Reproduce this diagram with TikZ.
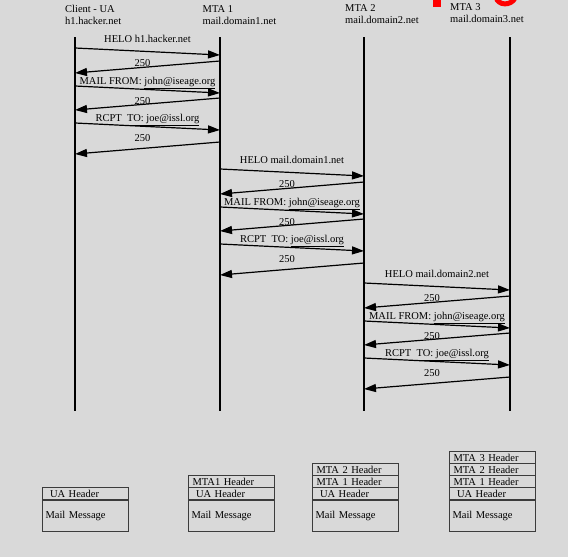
\documentclass[tikz,border=0pt]{standalone}
\usepackage{fontspec}
\setmainfont{Liberation Serif}
\usetikzlibrary{arrows.meta,calc}

\definecolor{paper}{HTML}{D9D9D9}
\definecolor{boxline}{HTML}{3C3C3C}

\tikzset{
  every node/.style={font=\fontsize{10.5}{12}\selectfont},
  lifeline/.style={line width=1.2pt},
  msg/.style={->, line width=1.2pt},
  lbl/.style={anchor=base, inner sep=0pt},
  hostlbl/.style={anchor=base west, inner sep=0pt},
  hdrrow/.style={draw=boxline, line width=1.1pt, anchor=south west, minimum height=12pt,
    text width=78pt, inner xsep=4pt, inner ysep=0pt, align=left},
  msgbody/.style={draw=boxline, line width=1.1pt, anchor=north west, minimum height=31pt,
    text width=80pt, inner xsep=3pt, inner ysep=0pt, align=left}
}

\begin{document}
\begin{tikzpicture}[x=1pt, y=-1pt, >={Triangle[length=12pt,width=8pt]}]

\fill[paper] (0,0) rectangle (568,557);
\useasboundingbox (0,0) rectangle (568,557);

% red text cut off at the top edge
\fill[red] (433,-2) rectangle (441,7);
\draw[red, line width=5pt] (496,-3) .. controls (498,6) and (511,6) .. (515,-2);

\foreach \x/\hx/\hy/\role/\host [count=\i] in {
    75/65/12/{Client - UA}/{h1.hacker.net},
    220/202.5/12/{MTA 1}/{mail.domain1.net},
    364/345/11/{MTA 2}/{mail.domain2.net},
    510/450/10.5/{MTA 3}/{mail.domain3.net}} {
  \node[hostlbl] (role-\i) at (\hx,\hy) {\role};
  \node[hostlbl] (host-\i) at (\hx,\hy+12) {\host};
  \coordinate (col-\i) at (\x,0);
  \coordinate (top-\i) at (\x,37);
  \coordinate (bot-\i) at (\x,411);
  \draw[lifeline] (top-\i) -- (bot-\i);
}

\foreach \l/\r/\b/\from/\rcpt [count=\g] in {
    1/2/48/{h1.hacker.net}/{RCPT\ \ \underline{TO: joe@issl.org}},
    2/3/169/{mail.domain1.net}/{RCPT\ \ TO: \underline{joe@issl.org}},
    3/4/283/{mail.domain2.net}/{RCPT\ \ \underline{TO: joe@issl.org}}} {
  \foreach \dq/\lq/\dr/\lr/\txt [count=\k] in {
      0/-5.5/13/18.5/{HELO \from},
      38/36.5/50/56.5/{MAIL FROM: \underline{john@iseage.org}},
      75/73.5/94/93.5/{\rcpt}} {
    \draw[msg] ($(col-\l)+(0,\b+\dq)$) -- ($(col-\r)+(0,\b+\dq+7)$);
    \node[lbl] (req-\g-\k) at ($(col-\l)!.5!(col-\r)+(0,\b+\lq)$) {\txt};
    \draw[msg] ($(col-\r)+(0,\b+\dr)$) -- ($(col-\l)+(0,\b+\dr+12)$);
    \node[lbl] (ack-\g-\k) at ($(col-\l)!.5!(col-\r)+(-5,\b+\lr)$) {250};
  }
}

% mail as it arrives at each hop
\foreach \bx/\hl [count=\m] in {
    42/{~UA Header},
    188/{~UA Header,MTA1 Header},
    312/{~UA Header,MTA 1 Header,MTA 2 Header},
    449/{~UA Header,MTA 1 Header,MTA 2 Header,MTA 3 Header}} {
  \node[msgbody] (body-\m) at (\bx,500) {Mail Message};
  \foreach \h [count=\n] in \hl
    \node[hdrrow] (hdr-\m-\n) at (\bx,500-12*\n+12) {\h};
}

\end{tikzpicture}
\end{document}
